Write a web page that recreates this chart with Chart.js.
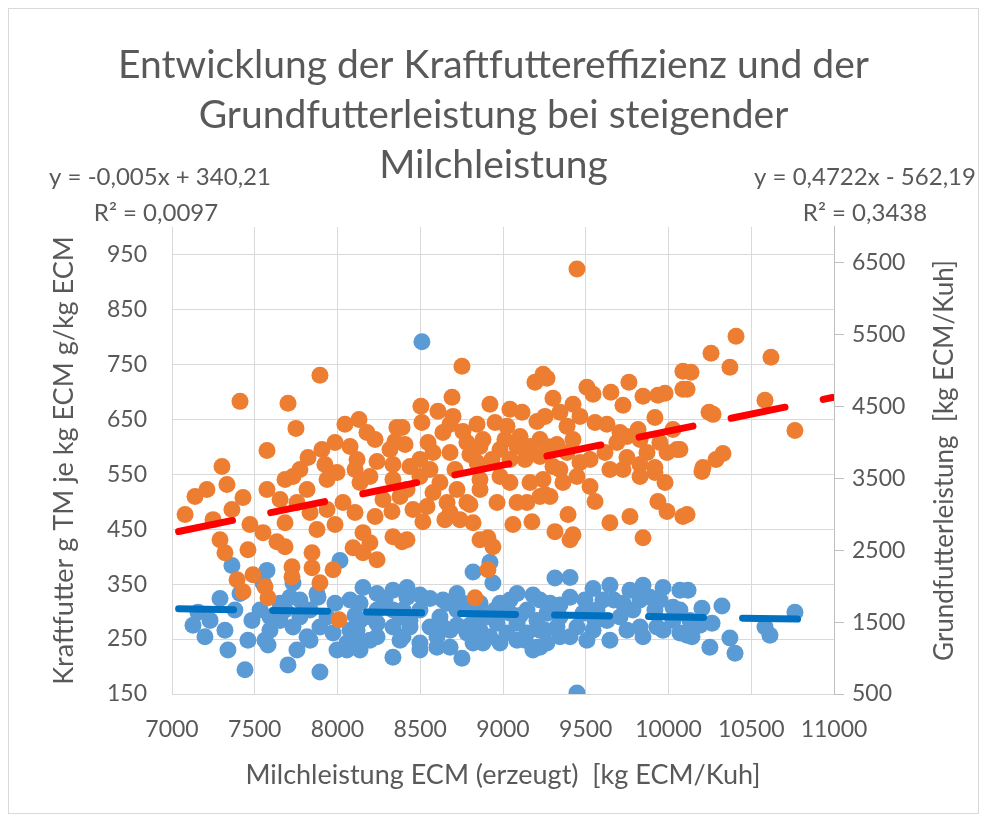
<!DOCTYPE html>
<html>
<head>
<meta charset="utf-8">
<script src="https://cdn.jsdelivr.net/npm/chart.js@4.4.1/dist/chart.umd.min.js"></script>
<style>
  html, body { margin: 0; padding: 0; background: #fff; }
  #wrap { width: 987px; height: 822px; }
</style>
</head>
<body>
<div id="wrap"><canvas id="chart" width="987" height="822"></canvas></div>
<script>
// axis ticks
const xTicks = [7000, 7500, 8000, 8500, 9000, 9500, 10000, 10500, 11000];
const kfTicks = [150, 250, 350, 450, 550, 650, 750, 850, 950];
const gfTicks = [500, 1500, 2500, 3500, 4500, 5500, 6500];

// Kraftfutter g TM je kg ECM (left axis) : [ECM, g/kg]
const kraftfutter = [
  [7127,275],[7157,299],[7199,254],[7230,284],[7290,324],[7320,266],[7362,384],[7380,303],[7411,333],
  [7441,194],[7459,248],[7483,284],[7338,230],
  [8510,791],
  [7574,375],[8015,393],[7550,352],[7731,352],[7876,333],[7713,326],[7592,290],[7773,290],[7882,326],
  [7985,315],[7532,303],[7592,266],[7731,272],[7894,272],[7816,254],[7973,261],[8057,243],[8118,266],
  [8154,344],[8239,333],[8335,339],[8136,315],[8239,303],[8335,303],[8136,284],[8239,279],[8335,272],
  [8378,248],[8136,248],[8239,254],[7580,239],[7755,230],[8057,230],[8136,230],[7701,203],[7894,190],
  [7653,315],[7834,303],[7937,290],[8196,290],[8378,290],[7997,230],[8335,217],
  [7653,284],[7562,248],[7773,321],[7834,248],[7683,303],[8076,321],[8106,293],[8076,266],[8196,248],
  [8287,321],[8438,284],[8498,330],
  [8420,344],[8559,324],[8722,333],[8819,372],[8921,390],[8939,352],[9085,333],[9181,330],[8396,303],
  [8498,303],[8619,290],[8722,303],[8861,315],[8982,315],[8861,290],[8964,279],[9085,279],[9205,284],
  [8396,254],[8498,243],[8601,254],[8680,266],[8782,261],[8861,266],[8921,254],[9024,261],[9145,261],
  [9205,235],[8680,235],[8819,243],[8601,235],[8752,215],[8498,230],[9181,230],
  [8420,326],[8637,321],[8758,315],[9042,297],[9145,303],[8903,290],[8438,272],[8559,272],[8637,272],
  [9085,248],[8982,243],[8879,243],
  [8662,315],[8722,275],[8800,312],[8800,275],[8952,303],[9042,321],[9103,293],[9133,248],
  [9314,361],[9405,362],[9223,321],[9266,297],[9405,326],[9544,342],[9646,348],[9767,339],[9846,348],
  [9967,344],[10069,339],[9604,321],[9725,315],[9888,326],[10027,308],[9223,266],[9326,272],[9447,272],
  [9544,266],[9628,284],[9828,272],[9930,272],[10069,261],[9266,243],[9405,254],[9507,248],[9646,248],
  [9846,254],[9967,266],[9223,235],[9447,152],
  [9284,315],[9344,290],[9483,297],[9707,290],[9785,303],[10027,284],[9568,303],[9344,254],[9749,266],
  [9254,266],[9344,312],[9495,321],[9556,284],[9670,321],[9828,321],[9918,303],[9948,321],
  [10118,339],[10069,303],[10202,306],[10323,310],[10263,279],[10112,257],[10142,254],[10250,235],
  [10371,252],[10402,224],[10764,299],[10583,272],[10613,257],[10130,284],[10190,275]
];

// Grundfutterleistung kg ECM/Kuh (right axis) : [ECM, kg]
const grundfutter = [
  [7079,2997],[7139,3248],[7211,3346],[7248,2927],[7302,3667],[7332,3416],[7362,3067],[7411,4573],
  [7429,3234],[7459,2509],[7320,2467],[7393,2090],[7429,1923],[7489,2160],[7290,2648],[7471,2858],
  [7894,4936],[7701,4546],[7749,4197],[7574,3890],[8045,4253],[8130,4322],[8178,4141],[8359,4211],
  [8347,4015],[7822,3792],[7906,3904],[7985,4001],[8076,3946],[8118,3764],[8239,3736],[8335,3695],[7924,3695],
  [8317,3904],[8408,3974],[8227,4043],[8106,3625],[7773,3625],[7683,3485],
  [8752,5062],[9193,4838],[9242,4950],[8692,4629],[8504,4504],[8607,4434],[9115,4420],[8510,4280],
  [8637,4141],[8390,4211],[8758,4155],[8843,4253],[8952,4280],[9024,4225],[9103,4085],[9205,4294],
  [9223,4043],[8547,4001],[8577,3862],[8498,3764],[8782,4001],[8861,3946],[8982,3904],[9085,3946],
  [8933,3764],[8843,3722],[8438,3667],[9223,3806],
  [8698,4364],[8879,4043],[9163,3946],[8680,3862],[9042,3764],
  [8559,3625],[8710,3625],[8800,3834],[9012,4043],[9133,3764],[8680,4253],[8921,4532],[9042,4462],
  [9447,6415],[9266,4894],[9507,4769],[9544,4671],[9302,4615],[9423,4532],[9652,4699],[9761,4838],
  [9725,4518],[9846,4643],[9936,4657],[9979,4685],[10087,4992],[10087,4741],[9918,4350],[9254,4364],
  [9344,4420],[9465,4364],[9556,4280],[9628,4253],[9707,4141],[9816,4183],[9749,4085],[9828,4043],
  [10027,4183],[10051,3904],[9948,4001],[9266,3946],[9326,3974],[9423,4043],[9616,3862],[9749,3792],
  [9918,3653],[9465,3722],[9302,3667],
  [9387,4225],[9688,4001],[9870,3862],[9387,3862],[9991,3862],
  [9344,3625],[9526,3764],[9646,3625],[9828,3695],
  [10408,5480],[10257,5243],[10619,5187],[10371,5048],[10136,4978],[10112,4741],[10583,4587],[10245,4420],
  [10269,4392],[10764,4169],[10069,3904],[10329,3848],[10287,3764],[10208,3653],
  [7574,3346],[7653,3206],[7816,3346],[7937,3485],[7997,3583],[8136,3443],[8196,3527],[8335,3485],
  [8378,3248],[7683,2885],[7834,3025],[7876,2788],[7985,2858],[8106,3025],[8227,2969],[8329,3039],
  [7550,2746],[7634,2620],[7683,2551],[8154,2746],[8196,2606],[8094,2537],[8154,2467],[8239,2369],
  [8335,2690],[8390,2620],[7846,2467],[7846,2258],[7973,2230],[7725,2272],[7725,2132],[7894,2048],
  [7562,1993],[7580,1839],[8009,1532],
  [7755,3164],[8033,3164],[8275,3206],[7937,3067],[7731,3527],
  [8420,3346],[8541,3109],[8420,2648],[8516,2899],[8680,3025],[8740,2927],[8819,2885],[8782,3164],
  [8861,3346],[8964,3164],[9060,2858],[9175,2899],[9145,3164],[9042,3443],[9163,3443],[9223,3248],
  [8861,2648],[8909,2676],[8939,2551],[8909,2230],[8831,1839],[8861,3485],[8619,3443],[8722,3346],
  [8456,3067],[8498,3527],
  [8982,3527],[9085,3164],[8662,3164],[8577,3304],[8800,3136],[8649,2927],
  [9242,3485],[9362,3443],[9526,3388],[9556,3178],[9725,3625],[9918,3583],[9979,3443],[9936,3178],
  [9991,3039],[10087,2969],[9393,2997],[9314,2760],[9423,2718],[9405,2648],[9646,2885],[9767,2969],
  [9846,2676],[10202,3597],[10112,2997],
  [9447,3527],[9284,3248],[9828,3527],[9254,3276]
];

// linear trendlines (from the equations in the chart)
const trendX = [7040, 10990];
const kfTrendY = [305.0, 285.3];
const gfTrendY = [2762, 4627];

const kfEquation = ["y = -0,005x + 340,21", "R\u00b2 = 0,0097"];
const gfEquation = ["y = 0,4722x - 562,19", "R\u00b2 = 0,3438"];

const FONT = "Lato, 'Open Sans', sans-serif";
const GREY = "#595959";
const GRID = "#d9d9d9";

const chartDecor = {
  id: "chartDecor",
  beforeDraw(chart) {
    const ctx = chart.ctx;
    ctx.save();
    ctx.fillStyle = "#fff";
    ctx.fillRect(0, 0, chart.width, chart.height);
    ctx.strokeStyle = GRID;
    ctx.lineWidth = 1;
    ctx.strokeRect(8.5, 8.5, 970, 805);
    ctx.restore();
  },
  afterDraw(chart) {
    const ctx = chart.ctx;
    ctx.save();
    ctx.fillStyle = GREY;
    ctx.font = "24px " + FONT;
    ctx.textAlign = "center";
    ctx.textBaseline = "middle";
    ctx.fillText(kfEquation[0], 160, 177);
    ctx.fillText(kfEquation[1], 156, 213);
    ctx.fillText(gfEquation[0], 865, 177);
    ctx.fillText(gfEquation[1], 865, 213);

    // right axis title, reading bottom to top like the left one
    const a = chart.chartArea;
    ctx.font = "26px " + FONT;
    ctx.translate(945, (a.top + a.bottom) / 2);
    ctx.rotate(-Math.PI / 2);
    ctx.fillText("Grundfutterleistung  [kg ECM/Kuh]", 0, 0);
    ctx.restore();
  }
};

const toPts = arr => arr.map(([x, y]) => ({ x, y }));
const plain = v => String(v);

new Chart(document.getElementById("chart"), {
  type: "scatter",
  data: {
    datasets: [
      {
        label: "Linear (Grundfutterleistung)",
        data: trendX.map((x, i) => ({ x, y: gfTrendY[i] })),
        yAxisID: "y2",
        showLine: true,
        borderColor: "#ff0000",
        borderWidth: 7,
        borderDash: [55, 39],
        borderCapStyle: "round",
        pointRadius: 0
      },
      {
        label: "Linear (Kraftfutter)",
        data: trendX.map((x, i) => ({ x, y: kfTrendY[i] })),
        yAxisID: "y",
        showLine: true,
        borderColor: "#0070c0",
        borderWidth: 7,
        borderDash: [55, 39],
        borderCapStyle: "round",
        pointRadius: 0
      },
      {
        label: "Grundfutterleistung",
        data: toPts(grundfutter),
        yAxisID: "y2",
        backgroundColor: "#ed7d31",
        borderWidth: 0,
        pointRadius: 8.5
      },
      {
        label: "Kraftfutter",
        data: toPts(kraftfutter),
        yAxisID: "y",
        backgroundColor: "#5b9bd5",
        borderWidth: 0,
        pointRadius: 8.5
      }
    ]
  },
  options: {
    responsive: false,
    animation: false,
    layout: { padding: 0 },
    plugins: {
      legend: { display: false },
      tooltip: { enabled: false },
      title: {
        display: true,
        text: [
          "Entwicklung der Kraftfuttereffizienz und der",
          "Grundfutterleistung bei steigender",
          "Milchleistung"
        ],
        color: GREY,
        font: { family: FONT, size: 39, weight: "normal", lineHeight: 1.282 },
        padding: { top: 40, bottom: 37 }
      }
    },
    scales: {
      x: {
        type: "linear",
        min: 7000,
        max: 11000,
        afterBuildTicks: s => { s.ticks = xTicks.map(v => ({ value: v })); },
        ticks: { color: GREY, font: { family: FONT, size: 23 }, padding: 22, maxRotation: 0, callback: plain },
        grid: { color: GRID, drawTicks: false },
        border: { color: GRID },
        title: {
          display: true,
          text: "Milchleistung ECM (erzeugt)  [kg ECM/Kuh]",
          color: GREY,
          font: { family: FONT, size: 27 },
          padding: { top: 0, bottom: 31 }
        },
        afterFit: s => { s.height = 128; }
      },
      y: {
        position: "left",
        min: 150,
        max: 1000,
        afterBuildTicks: s => { s.ticks = kfTicks.map(v => ({ value: v })); },
        ticks: { color: GREY, font: { family: FONT, size: 23 }, padding: 25, callback: plain },
        grid: { color: GRID, drawTicks: false },
        border: { display: false },
        title: {
          display: true,
          text: "Kraftfutter g TM je kg ECM g/kg ECM",
          color: GREY,
          font: { family: FONT, size: 27 },
          padding: { top: 48, bottom: 0 }
        },
        afterFit: s => { s.width = 172; }
      },
      y2: {
        position: "right",
        min: 500,
        max: 7000,
        afterBuildTicks: s => { s.ticks = gfTicks.map(v => ({ value: v })); },
        ticks: { color: GREY, font: { family: FONT, size: 23 }, padding: 8, callback: plain },
        grid: { drawOnChartArea: false, drawTicks: true, tickLength: 10, color: "#bfbfbf" },
        border: { color: "#bfbfbf" },
        afterFit: s => { s.width = 153; }
      }
    }
  },
  plugins: [chartDecor]
});
</script>
</body>
</html>
